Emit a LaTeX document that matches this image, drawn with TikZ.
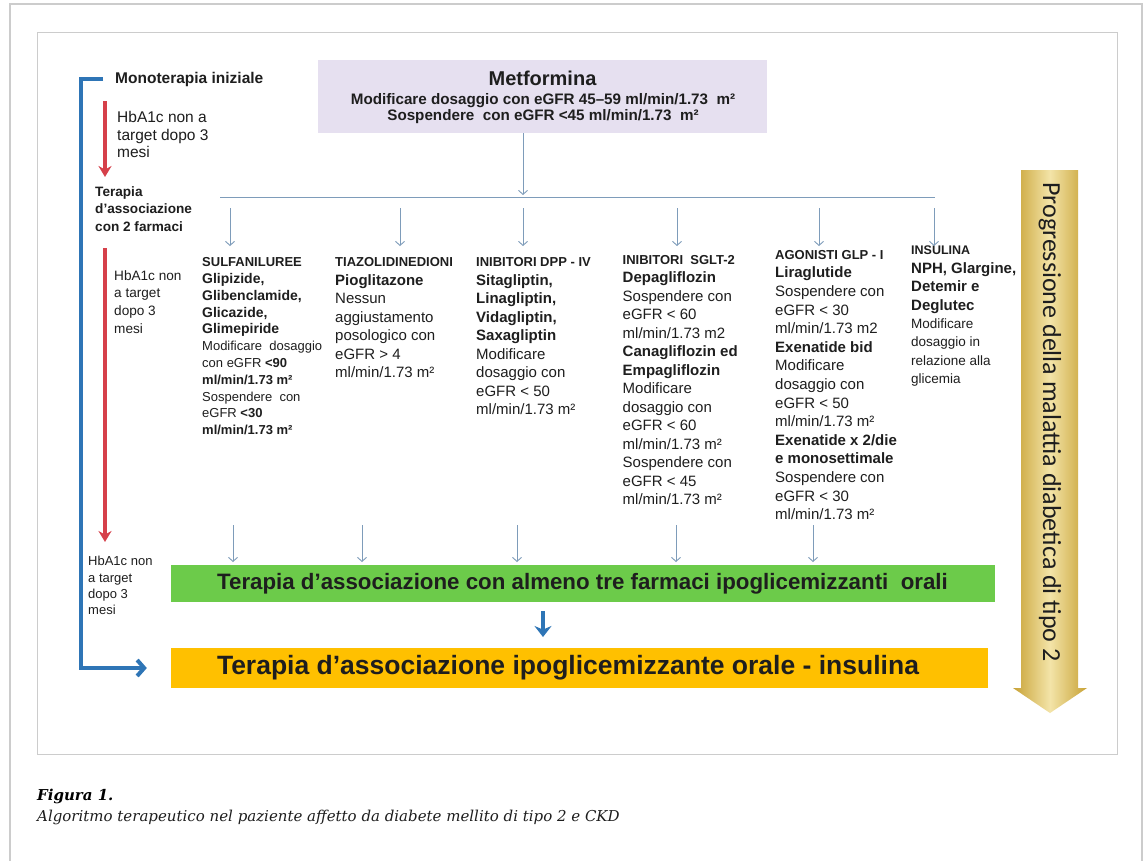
\documentclass[tikz,border=0pt]{standalone}
\usepackage{fontspec}
\setmainfont{Liberation Sans}
\newfontfamily\goldfont{Carlito}
\newfontfamily\capfont{DejaVu Serif}
\usetikzlibrary{arrows.meta}
\definecolor{thinblue}{HTML}{7E9CBA}
\definecolor{bracketblue}{HTML}{2E75B6}
\definecolor{redarr}{HTML}{D6404A}
\definecolor{lav}{HTML}{E6E0F0}
\definecolor{grn}{HTML}{6CCB4A}
\definecolor{org}{HTML}{FFC000}
\definecolor{framecol}{HTML}{CCCCCC}
\definecolor{goldD}{HTML}{C8A235}
\definecolor{goldL}{HTML}{F3E4A8}
\definecolor{txt}{HTML}{1E1E1E}
\newcommand\hd[1]{{\bfseries\fontsize{13}{13}\selectfont #1}}
\newcommand\nm[1]{{\bfseries\fontsize{15}{15}\selectfont #1}}
\newcommand\nmA[1]{{\bfseries\fontsize{14}{14}\selectfont #1}}
\begin{document}
\begin{tikzpicture}[x=1pt,y=-1pt,
  thinarrow/.style={draw=thinblue, line width=0.9pt, -{Straight Barb[length=4pt,width=9pt]}},
  thinline/.style={draw=thinblue, line width=0.9pt},
  redarrow/.style={draw=redarr, line width=3.2pt, -{Stealth[length=11pt,width=13pt]}},
  bracket/.style={draw=bracketblue, line width=4pt, -{Straight Barb[length=7pt,width=16pt]}},
  bluearrow/.style={draw=bracketblue, line width=4.5pt, -{Stealth[length=11pt,width=17pt]}},
  col/.style={anchor=north west, inner sep=0pt, align=left, text=txt},
  lbl/.style={anchor=north west, inner sep=0pt, align=left, text=txt}]
\useasboundingbox (0,0) rectangle (1148,860);
\fill[white] (0,0) rectangle (1148,860);
% frames
\draw[framecol, line width=1.5pt] (10,880) -- (10,4) -- (1142,4) -- (1142,880);
\draw[framecol, line width=1pt] (37,32) rectangle (1117,754);

% Metformina
\node[fill=lav, minimum width=449pt, minimum height=73pt, inner sep=0pt] (metf) at (542.5,96.5) {};
\node[font=\bfseries\fontsize{20}{22}\selectfont, text=txt, inner sep=0pt] (metfA) at (542.5,78) {Metformina};
\node[font=\bfseries\fontsize{15.2}{16}\selectfont, text=txt, inner sep=0pt] (metfB) at (543,100.5) {Modificare dosaggio con\ eGFR 45–59 ml/min/1.73\ \ m²};
\node[font=\bfseries\fontsize{15.2}{16}\selectfont, text=txt, inner sep=0pt] (metfC) at (543,116.5) {Sospendere\ \ con eGFR <45 ml/min/1.73\ \ m²};

% left labels
\node[lbl, anchor=west, font=\bfseries\fontsize{15.5}{18}\selectfont] (mono) at (115,79) {Monoterapia iniziale};
\node[lbl, font=\fontsize{15.5}{17.7}\selectfont] (hb1) at (117,111) {HbA1c non a\\target dopo 3\\mesi};
\node[lbl, font=\bfseries\fontsize{13.6}{17.8}\selectfont] (ter2) at (95,186) {Terapia\\d’associazione\\con 2 farmaci};
\node[lbl, font=\fontsize{13.6}{17.7}\selectfont] (hb2) at (114,270) {HbA1c non\\a target\\dopo 3\\mesi};
\node[lbl, font=\fontsize{13}{16.4}\selectfont] (hb3) at (88,556) {HbA1c non\\a target\\dopo 3\\mesi};

% columns
\node[col, font=\fontsize{13}{16.8}\selectfont] (c1) at (202,257.5) {%
\hd{SULFANILUREE}\\
\nmA{Glipizide,}\\
\nmA{Glibenclamide,}\\
\nmA{Glicazide,}\\
\nmA{Glimepiride}\\
Modificare\ \ dosaggio\\
con eGFR \textbf{<90}\\
\textbf{ml/min/1.73 m²}\\
Sospendere\ \ con\\
eGFR \textbf{<30}\\
\textbf{ml/min/1.73 m²}};

\node[col, font=\fontsize{15}{18.5}\selectfont] (c2) at (335,257.5) {%
\hd{TIAZOLIDINEDIONI}\\
\nm{Pioglitazone}\\
Nessun\\
aggiustamento\\
posologico con\\
eGFR > 4\\
ml/min/1.73 m²};

\node[col, font=\fontsize{15}{18.5}\selectfont] (c3) at (476,257.5) {%
\hd{INIBITORI DPP - IV}\\
\nm{Sitagliptin,}\\
\nm{Linagliptin,}\\
\nm{Vidagliptin,}\\
\nm{Saxagliptin}\\
Modificare\\
dosaggio con\\
eGFR < 50\\
ml/min/1.73 m²};

\node[col, font=\fontsize{15}{18.5}\selectfont] (c4) at (622.5,255) {%
\hd{INIBITORI\ \ SGLT-2}\\
\nm{Depagliflozin}\\
Sospendere con\\
eGFR < 60\\
ml/min/1.73 m2\\
\nm{Canagliflozin ed}\\
\nm{Empagliflozin}\\
Modificare\\
dosaggio con\\
eGFR < 60\\
ml/min/1.73 m²\\
Sospendere con\\
eGFR < 45\\
ml/min/1.73 m²};

\node[col, font=\fontsize{15}{18.6}\selectfont] (c5) at (775,250) {%
\hd{AGONISTI GLP - I}\\
\nm{Liraglutide}\\
Sospendere con\\
eGFR < 30\\
ml/min/1.73 m2\\
\nm{Exenatide bid}\\
Modificare\\
dosaggio con\\
eGFR < 50\\
ml/min/1.73 m²\\
\nm{Exenatide x 2/die}\\
\nm{e monosettimale}\\
Sospendere con\\
eGFR < 30\\
ml/min/1.73 m²};

\node[col, font=\fontsize{13.5}{18.4}\selectfont] (c6) at (911,246) {%
{\bfseries\fontsize{12.5}{12.5}\selectfont INSULINA}\\
{\bfseries\fontsize{15}{15}\selectfont NPH, Glargine,}\\
{\bfseries\fontsize{15}{15}\selectfont Detemir e}\\
{\bfseries\fontsize{15}{15}\selectfont Deglutec}\\
Modificare\\
dosaggio in\\
relazione alla\\
glicemia};

% boxes
\node[fill=grn, minimum width=824pt, minimum height=37pt, inner sep=0pt] (green) at (583,583.5) {};
\node[font=\bfseries\fontsize{22.3}{24}\selectfont, text=txt, inner sep=0pt] (greent) at (582.5,584) {Terapia d’associazione con almeno tre farmaci ipoglicemizzanti\ \ orali};
\node[fill=org, minimum width=817pt, minimum height=40pt, inner sep=0pt] (orange) at (579.5,668) {};
\node[font=\bfseries\fontsize{26.5}{28}\selectfont, text=txt, inner sep=0pt] (oranget) at (568,668) {Terapia d’associazione ipoglicemizzante orale - insulina};

% connectors
\coordinate (hl) at (220,197);
\coordinate (hr) at (935,197);
\draw[thinline] (hl) -- (hr);
\draw[thinarrow] (metf.south -| 523,0) -- (523,195);
\foreach \x in {230,400,523,677,819,934}{
  \draw[thinarrow] (\x,208) -- (\x,246);
}
\foreach \x in {233,362,517,676,813}{
  \draw[thinarrow] (\x,525) -- (\x,562);
}
\draw[bluearrow] (543,611) -- (543,637);

% bracket and red arrows
\coordinate (bl) at (81,668);
\draw[bracket] ([xshift=-12pt]mono.west) -| (bl) -- ([xshift=-24pt]orange.west);
\draw[redarrow] (105,101) -- (105,177);
\draw[redarrow] (105,248) -- (105,542);

% gold progression arrow
\shade[left color=goldD, right color=goldD, middle color=goldL]
  (1021,170) -- (1078,170) -- (1078,688) -- (1087,688) -- (1050,713) -- (1013,688) -- (1021,688) -- cycle;
\node[rotate=-90, font=\goldfont\fontsize{26}{28}\selectfont, text=txt, inner sep=0pt] (prog) at (1050,422) {Progressione della malattia diabetica di tipo 2};

% caption
\node[anchor=base west, inner sep=0pt, font=\capfont\bfseries\itshape\fontsize{15}{18}\selectfont, text=black] (figA) at (37,800) {Figura 1.};
\node[anchor=base west, inner sep=0pt, font=\capfont\itshape\fontsize{15}{18}\selectfont, text=txt] (figB) at (37,821) {Algoritmo terapeutico nel paziente affetto da diabete mellito di tipo 2 e CKD};
\end{tikzpicture}
\end{document}
